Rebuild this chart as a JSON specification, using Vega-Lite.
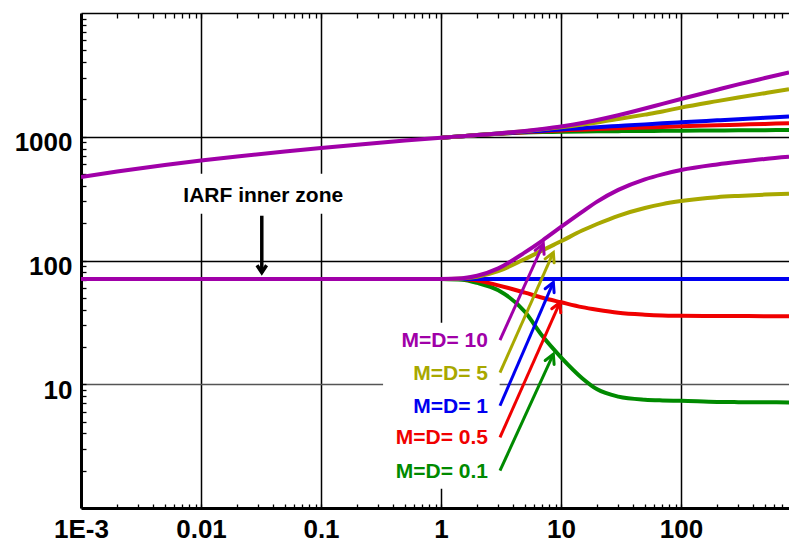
{
  "$schema": "https://vega.github.io/schema/vega-lite/v6.json",
  "width": 708,
  "height": 495,
  "autosize": "none",
  "padding": {"left": 81, "top": 13, "right": 0, "bottom": 37},
  "background": "white",
  "config": {"view": {"stroke": null}},
  "datasets": {
    "boxes": [
      {"x1": 0.006, "x2": 0.2, "y1": 239, "y2": 502},
      {"x1": 0.329, "x2": 3.08, "y1": 1.43, "y2": 31.4}
    ],
    "curves": [
      {"s": "0.1", "k": "p", "x": 1, "y": 982},
      {"s": "0.1", "k": "p", "x": 1.5, "y": 1011},
      {"s": "0.1", "k": "p", "x": 2, "y": 1030},
      {"s": "0.1", "k": "p", "x": 3, "y": 1055},
      {"s": "0.1", "k": "p", "x": 5, "y": 1080},
      {"s": "0.1", "k": "p", "x": 7, "y": 1090},
      {"s": "0.1", "k": "p", "x": 10, "y": 1098},
      {"s": "0.1", "k": "p", "x": 15, "y": 1103},
      {"s": "0.1", "k": "p", "x": 20, "y": 1106},
      {"s": "0.1", "k": "p", "x": 30, "y": 1110},
      {"s": "0.1", "k": "p", "x": 50, "y": 1114},
      {"s": "0.1", "k": "p", "x": 70, "y": 1116},
      {"s": "0.1", "k": "p", "x": 100, "y": 1119},
      {"s": "0.1", "k": "p", "x": 200, "y": 1124},
      {"s": "0.1", "k": "p", "x": 300, "y": 1127},
      {"s": "0.1", "k": "p", "x": 500, "y": 1131},
      {"s": "0.1", "k": "p", "x": 794, "y": 1134},
      {"s": "0.1", "k": "d", "x": 1, "y": 71},
      {"s": "0.1", "k": "d", "x": 1.5, "y": 70},
      {"s": "0.1", "k": "d", "x": 2, "y": 66},
      {"s": "0.1", "k": "d", "x": 3, "y": 57.5},
      {"s": "0.1", "k": "d", "x": 5, "y": 38.5},
      {"s": "0.1", "k": "d", "x": 7, "y": 24.5},
      {"s": "0.1", "k": "d", "x": 10, "y": 16.5},
      {"s": "0.1", "k": "d", "x": 15, "y": 11.2},
      {"s": "0.1", "k": "d", "x": 20, "y": 9.1},
      {"s": "0.1", "k": "d", "x": 30, "y": 7.95},
      {"s": "0.1", "k": "d", "x": 50, "y": 7.5},
      {"s": "0.1", "k": "d", "x": 70, "y": 7.4},
      {"s": "0.1", "k": "d", "x": 100, "y": 7.35},
      {"s": "0.1", "k": "d", "x": 200, "y": 7.2},
      {"s": "0.1", "k": "d", "x": 300, "y": 7.17},
      {"s": "0.1", "k": "d", "x": 500, "y": 7.15},
      {"s": "0.1", "k": "d", "x": 794, "y": 7.13},
      {"s": "0.5", "k": "p", "x": 1, "y": 982},
      {"s": "0.5", "k": "p", "x": 1.5, "y": 1011},
      {"s": "0.5", "k": "p", "x": 2, "y": 1031},
      {"s": "0.5", "k": "p", "x": 3, "y": 1058},
      {"s": "0.5", "k": "p", "x": 5, "y": 1088},
      {"s": "0.5", "k": "p", "x": 7, "y": 1106},
      {"s": "0.5", "k": "p", "x": 10, "y": 1123},
      {"s": "0.5", "k": "p", "x": 15, "y": 1141},
      {"s": "0.5", "k": "p", "x": 20, "y": 1153},
      {"s": "0.5", "k": "p", "x": 30, "y": 1169},
      {"s": "0.5", "k": "p", "x": 50, "y": 1188},
      {"s": "0.5", "k": "p", "x": 70, "y": 1200},
      {"s": "0.5", "k": "p", "x": 100, "y": 1213},
      {"s": "0.5", "k": "p", "x": 200, "y": 1238},
      {"s": "0.5", "k": "p", "x": 300, "y": 1252},
      {"s": "0.5", "k": "p", "x": 500, "y": 1270},
      {"s": "0.5", "k": "p", "x": 794, "y": 1286},
      {"s": "0.5", "k": "d", "x": 1, "y": 71},
      {"s": "0.5", "k": "d", "x": 1.5, "y": 71},
      {"s": "0.5", "k": "d", "x": 2, "y": 69},
      {"s": "0.5", "k": "d", "x": 3, "y": 63},
      {"s": "0.5", "k": "d", "x": 5, "y": 55},
      {"s": "0.5", "k": "d", "x": 7, "y": 50},
      {"s": "0.5", "k": "d", "x": 10, "y": 46},
      {"s": "0.5", "k": "d", "x": 15, "y": 42},
      {"s": "0.5", "k": "d", "x": 20, "y": 40},
      {"s": "0.5", "k": "d", "x": 30, "y": 37.8},
      {"s": "0.5", "k": "d", "x": 50, "y": 36.5},
      {"s": "0.5", "k": "d", "x": 70, "y": 36},
      {"s": "0.5", "k": "d", "x": 100, "y": 35.8},
      {"s": "0.5", "k": "d", "x": 200, "y": 35.6},
      {"s": "0.5", "k": "d", "x": 300, "y": 35.55},
      {"s": "0.5", "k": "d", "x": 500, "y": 35.5},
      {"s": "0.5", "k": "d", "x": 794, "y": 35.5},
      {"s": "1", "k": "p", "x": 1, "y": 982},
      {"s": "1", "k": "p", "x": 1.5, "y": 1011},
      {"s": "1", "k": "p", "x": 2, "y": 1031},
      {"s": "1", "k": "p", "x": 3, "y": 1060},
      {"s": "1", "k": "p", "x": 5, "y": 1096},
      {"s": "1", "k": "p", "x": 7, "y": 1120},
      {"s": "1", "k": "p", "x": 10, "y": 1146},
      {"s": "1", "k": "p", "x": 15, "y": 1174},
      {"s": "1", "k": "p", "x": 20, "y": 1195},
      {"s": "1", "k": "p", "x": 30, "y": 1223},
      {"s": "1", "k": "p", "x": 50, "y": 1259},
      {"s": "1", "k": "p", "x": 70, "y": 1284},
      {"s": "1", "k": "p", "x": 100, "y": 1309},
      {"s": "1", "k": "p", "x": 200, "y": 1358},
      {"s": "1", "k": "p", "x": 300, "y": 1387},
      {"s": "1", "k": "p", "x": 500, "y": 1423},
      {"s": "1", "k": "p", "x": 794, "y": 1456},
      {"s": "1", "k": "d", "x": 1, "y": 71},
      {"s": "1", "k": "d", "x": 794, "y": 71},
      {"s": "5", "k": "p", "x": 1, "y": 982},
      {"s": "5", "k": "p", "x": 1.5, "y": 1011},
      {"s": "5", "k": "p", "x": 2, "y": 1032},
      {"s": "5", "k": "p", "x": 3, "y": 1063},
      {"s": "5", "k": "p", "x": 5, "y": 1110},
      {"s": "5", "k": "p", "x": 7, "y": 1147},
      {"s": "5", "k": "p", "x": 10, "y": 1192},
      {"s": "5", "k": "p", "x": 15, "y": 1255},
      {"s": "5", "k": "p", "x": 20, "y": 1305},
      {"s": "5", "k": "p", "x": 30, "y": 1390},
      {"s": "5", "k": "p", "x": 50, "y": 1510},
      {"s": "5", "k": "p", "x": 70, "y": 1600},
      {"s": "5", "k": "p", "x": 100, "y": 1720},
      {"s": "5", "k": "p", "x": 200, "y": 1940},
      {"s": "5", "k": "p", "x": 300, "y": 2075},
      {"s": "5", "k": "p", "x": 500, "y": 2250},
      {"s": "5", "k": "p", "x": 794, "y": 2420},
      {"s": "5", "k": "d", "x": 1, "y": 71},
      {"s": "5", "k": "d", "x": 1.5, "y": 71.7},
      {"s": "5", "k": "d", "x": 2, "y": 74},
      {"s": "5", "k": "d", "x": 3, "y": 82},
      {"s": "5", "k": "d", "x": 5, "y": 102.8},
      {"s": "5", "k": "d", "x": 7, "y": 120.7},
      {"s": "5", "k": "d", "x": 10, "y": 142.9},
      {"s": "5", "k": "d", "x": 15, "y": 174.8},
      {"s": "5", "k": "d", "x": 20, "y": 197.2},
      {"s": "5", "k": "d", "x": 30, "y": 229.8},
      {"s": "5", "k": "d", "x": 50, "y": 265.6},
      {"s": "5", "k": "d", "x": 70, "y": 285.5},
      {"s": "5", "k": "d", "x": 100, "y": 302.1},
      {"s": "5", "k": "d", "x": 200, "y": 324.8},
      {"s": "5", "k": "d", "x": 300, "y": 332.7},
      {"s": "5", "k": "d", "x": 500, "y": 340.8},
      {"s": "5", "k": "d", "x": 794, "y": 346.4},
      {"s": "10", "k": "p", "x": 0.001, "y": 472},
      {"s": "10", "k": "p", "x": 0.002, "y": 523},
      {"s": "10", "k": "p", "x": 0.005, "y": 591},
      {"s": "10", "k": "p", "x": 0.01, "y": 642},
      {"s": "10", "k": "p", "x": 0.02, "y": 693},
      {"s": "10", "k": "p", "x": 0.05, "y": 761},
      {"s": "10", "k": "p", "x": 0.1, "y": 812},
      {"s": "10", "k": "p", "x": 0.2, "y": 863},
      {"s": "10", "k": "p", "x": 0.5, "y": 931},
      {"s": "10", "k": "p", "x": 1, "y": 982},
      {"s": "10", "k": "p", "x": 1.5, "y": 1011},
      {"s": "10", "k": "p", "x": 2, "y": 1032},
      {"s": "10", "k": "p", "x": 3, "y": 1064},
      {"s": "10", "k": "p", "x": 5, "y": 1115},
      {"s": "10", "k": "p", "x": 7, "y": 1157},
      {"s": "10", "k": "p", "x": 10, "y": 1210},
      {"s": "10", "k": "p", "x": 15, "y": 1290},
      {"s": "10", "k": "p", "x": 20, "y": 1365},
      {"s": "10", "k": "p", "x": 30, "y": 1490},
      {"s": "10", "k": "p", "x": 50, "y": 1690},
      {"s": "10", "k": "p", "x": 70, "y": 1845},
      {"s": "10", "k": "p", "x": 100, "y": 2020},
      {"s": "10", "k": "p", "x": 200, "y": 2400},
      {"s": "10", "k": "p", "x": 300, "y": 2650},
      {"s": "10", "k": "p", "x": 500, "y": 2980},
      {"s": "10", "k": "p", "x": 794, "y": 3310},
      {"s": "10", "k": "d", "x": 0.001, "y": 71},
      {"s": "10", "k": "d", "x": 1, "y": 71},
      {"s": "10", "k": "d", "x": 1.5, "y": 71.9},
      {"s": "10", "k": "d", "x": 2, "y": 75.2},
      {"s": "10", "k": "d", "x": 3, "y": 86.3},
      {"s": "10", "k": "d", "x": 5, "y": 116.4},
      {"s": "10", "k": "d", "x": 7, "y": 145},
      {"s": "10", "k": "d", "x": 10, "y": 186.6},
      {"s": "10", "k": "d", "x": 15, "y": 247},
      {"s": "10", "k": "d", "x": 20, "y": 299},
      {"s": "10", "k": "d", "x": 30, "y": 372},
      {"s": "10", "k": "d", "x": 50, "y": 453},
      {"s": "10", "k": "d", "x": 70, "y": 497},
      {"s": "10", "k": "d", "x": 100, "y": 538},
      {"s": "10", "k": "d", "x": 200, "y": 597},
      {"s": "10", "k": "d", "x": 300, "y": 627},
      {"s": "10", "k": "d", "x": 500, "y": 662},
      {"s": "10", "k": "d", "x": 794, "y": 688}
    ],
    "arrows": [
      {"s": "10", "x1": 3.1, "y1": 22.7, "x2": 7.12, "y2": 135.9},
      {"s": "5", "x1": 3.1, "y1": 12.4, "x2": 8.63, "y2": 116},
      {"s": "1", "x1": 3.1, "y1": 6.7, "x2": 8.63, "y2": 66.5},
      {"s": "0.5", "x1": 3.1, "y1": 3.72, "x2": 9.8, "y2": 45.8},
      {"s": "0.1", "x1": 3.1, "y1": 2.0, "x2": 8.63, "y2": 17.5}
    ],
    "labels": [
      {"s": "10", "label": "M=D= 10", "x": 2.46, "y": 22.2},
      {"s": "5", "label": "M=D= 5", "x": 2.46, "y": 12.1},
      {"s": "1", "label": "M=D= 1", "x": 2.46, "y": 6.58},
      {"s": "0.5", "label": "M=D= 0.5", "x": 2.46, "y": 3.67},
      {"s": "0.1", "label": "M=D= 0.1", "x": 2.46, "y": 1.97}
    ],
    "note": [
      {"label": "IARF inner zone", "x": 0.033, "y": 330, "xa": 0.0321, "ya1": 230, "ya2": 80}
    ]
  },
  "layer": [
    {
      "data": {"name": "boxes"},
      "mark": {"type": "rect", "color": "white"},
      "encoding": {
        "x": {
          "field": "x1", "type": "quantitative",
          "scale": {"type": "log", "domain": [0.001, 794], "nice": false},
          "axis": {
            "orient": "bottom",
            "title": null,
            "values": [0.001,0.002,0.003,0.004,0.005,0.006,0.007,0.008,0.009,0.01,0.02,0.03,0.04,0.05,0.06,0.07,0.08,0.09,0.1,0.2,0.3,0.4,0.5,0.6,0.7,0.8,0.9,1,2,3,4,5,6,7,8,9,10,20,30,40,50,60,70,80,90,100,200,300,400,500,600,700],
            "labelExpr": "datum.value < 0.0015 ? '1E-3' : (abs(log(datum.value)/LN10 - round(log(datum.value)/LN10)) < 0.001 ? format(datum.value, '~g') : '')",
            "grid": true,
            "gridColor": "black",
            "gridWidth": 1.5,
            "gridOpacity": {"condition": {"test": "abs(log(datum.value)/LN10 - round(log(datum.value)/LN10)) < 0.001 && datum.value > 0.0015", "value": 1}, "value": 0},
            "tickSize": -4,
            "tickColor": "black",
            "tickWidth": 1.3,
            "domainColor": "black",
            "domainWidth": 3,
            "labelFont": "Liberation Sans",
            "labelFontWeight": "bold",
            "labelFontSize": 26,
            "labelColor": "black",
            "labelPadding": 12,
            "labelOverlap": false,
            "labelFlush": false,
            "labelBound": false
          }
        },
        "x2": {"field": "x2"},
        "y": {
          "field": "y1", "type": "quantitative",
          "scale": {"type": "log", "domain": [1, 10000], "nice": false},
          "axis": {
            "orient": "left",
            "title": null,
            "values": [2,3,4,5,6,7,8,9,10,20,30,40,50,60,70,80,90,100,200,300,400,500,600,700,800,900,1000,2000,3000,4000,5000,6000,7000,8000,9000],
            "labelExpr": "(datum.value == 10 || datum.value == 100 || datum.value == 1000) ? format(datum.value, 'd') : ''",
            "grid": true,
            "gridColor": {"condition": {"test": "datum.value == 10", "value": "#555555"}, "value": "black"},
            "gridWidth": 1.5,
            "gridOpacity": {"condition": {"test": "datum.value == 10 || datum.value == 100 || datum.value == 1000", "value": 1}, "value": 0},
            "tickSize": -5,
            "tickColor": "black",
            "tickWidth": 1.3,
            "domainColor": "black",
            "domainWidth": 3,
            "labelFont": "Liberation Sans",
            "labelFontWeight": "bold",
            "labelFontSize": 26,
            "labelColor": "black",
            "labelPadding": 14,
            "labelOffset": 6,
            "labelOverlap": false,
            "labelFlush": false,
            "labelBound": false
          }
        },
        "y2": {"field": "y2"}
      }
    },
    {
      "data": {"name": "curves"},
      "mark": {"type": "line", "strokeWidth": 4, "clip": true, "interpolate": "monotone"},
      "encoding": {
        "x": {"field": "x", "type": "quantitative", "axis": null},
        "y": {"field": "y", "type": "quantitative", "axis": null},
        "color": {
          "field": "s", "type": "nominal", "legend": null,
          "scale": {"domain": ["0.1", "0.5", "1", "5", "10"], "range": ["#008A00", "#F00000", "#0000F0", "#A8A800", "#A000A8"]}
        },
        "detail": {"field": "k"}
      }
    },
    {
      "data": {"name": "arrows"},
      "mark": {"type": "rule", "strokeWidth": 3},
      "encoding": {
        "x": {"field": "x1", "type": "quantitative", "axis": null},
        "y": {"field": "y1", "type": "quantitative", "axis": null},
        "x2": {"field": "x2"},
        "y2": {"field": "y2"},
        "color": {"field": "s", "type": "nominal", "legend": null}
      }
    },
    {
      "data": {"name": "arrows"},
      "mark": {"type": "point", "shape": "M -0.7 1.3 L 0 0 L 0.7 1.3", "filled": false, "strokeWidth": 3, "size": 196, "angle": 24, "opacity": 1, "strokeCap": "round"},
      "encoding": {
        "x": {"field": "x2", "type": "quantitative", "axis": null},
        "y": {"field": "y2", "type": "quantitative", "axis": null},
        "color": {"field": "s", "type": "nominal", "legend": null}
      }
    },
    {
      "data": {"name": "labels"},
      "mark": {"type": "text", "align": "right", "baseline": "middle", "font": "Liberation Sans", "fontWeight": "bold", "fontSize": 21},
      "encoding": {
        "x": {
          "field": "x", "type": "quantitative",
          "axis": {
            "orient": "top",
            "title": null,
            "values": [0.002,0.003,0.004,0.005,0.006,0.007,0.008,0.009,0.01,0.02,0.03,0.04,0.05,0.06,0.07,0.08,0.09,0.1,0.2,0.3,0.4,0.5,0.6,0.7,0.8,0.9,1,2,3,4,5,6,7,8,9,10,20,30,40,50,60,70,80,90,100,200,300,400,500,600,700],
            "labels": false,
            "grid": false,
            "tickSize": -5,
            "tickColor": "black",
            "tickWidth": 1.3,
            "domainColor": "black",
            "domainWidth": 1.5
          }
        },
        "y": {"field": "y", "type": "quantitative", "axis": null},
        "text": {"field": "label"},
        "color": {"field": "s", "type": "nominal", "legend": null}
      }
    },
    {
      "data": {"name": "note"},
      "mark": {"type": "text", "align": "center", "baseline": "middle", "font": "Liberation Sans", "fontWeight": "bold", "fontSize": 21, "color": "black"},
      "encoding": {
        "x": {"field": "x", "type": "quantitative", "axis": null},
        "y": {"field": "y", "type": "quantitative", "axis": null},
        "text": {"field": "label"}
      }
    },
    {
      "data": {"name": "note"},
      "mark": {"type": "rule", "strokeWidth": 3.5, "color": "black"},
      "encoding": {
        "x": {"field": "xa", "type": "quantitative", "axis": null},
        "y": {"field": "ya1", "type": "quantitative", "axis": null},
        "y2": {"field": "ya2"}
      }
    },
    {
      "data": {"name": "note"},
      "mark": {"type": "point", "shape": "M -0.8 1.2 L 0 0 L 0.8 1.2", "filled": false, "strokeWidth": 3.5, "size": 144, "angle": 180, "color": "black", "opacity": 1},
      "encoding": {
        "x": {"field": "xa", "type": "quantitative", "axis": null},
        "y": {"field": "ya2", "type": "quantitative", "axis": null}
      }
    }
  ],
  "resolve": {"axis": {"x": "independent", "y": "independent"}}
}
